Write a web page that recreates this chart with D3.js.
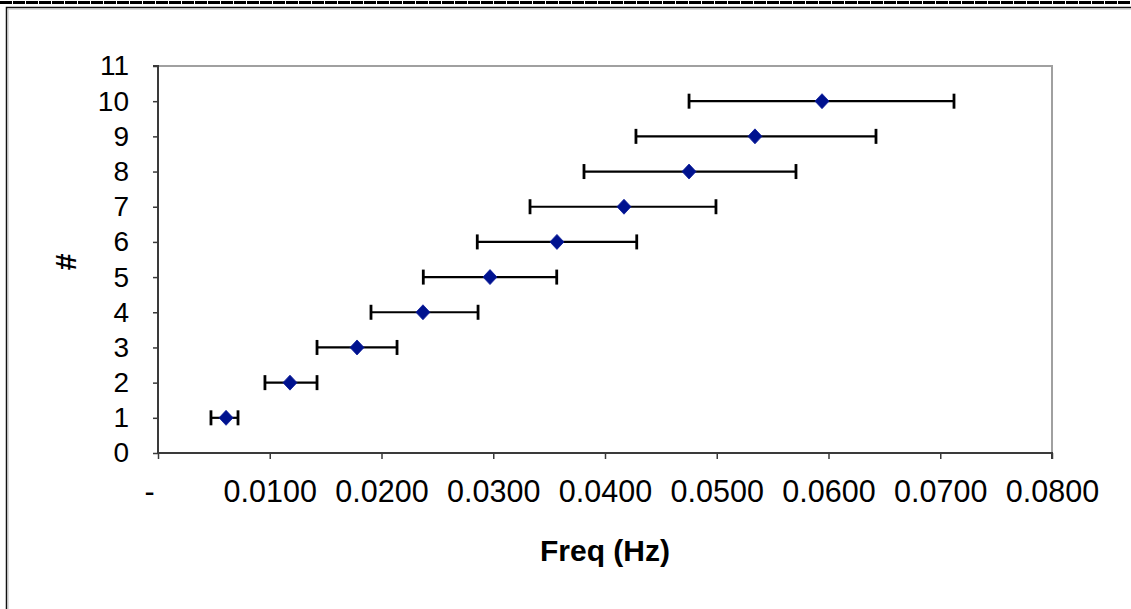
<!DOCTYPE html>
<html>
<head>
<meta charset="utf-8">
<script src="https://cdn.jsdelivr.net/npm/d3@7"></script>
<style>
  html, body { margin: 0; padding: 0; background: #fff; }
  svg { display: block; font-family: "Liberation Sans", Arial, sans-serif; }
</style>
</head>
<body>
<div id="chart"></div>
<script>
// measurement number and frequency (Hz), with the ends of each error bar
var rows = [1, 2, 3, 4, 5, 6, 7, 8, 9, 10];
var freq = [0.00609, 0.01181, 0.01781, 0.02371, 0.02971, 0.03570, 0.04170, 0.04752, 0.05342, 0.05942];
var freqLow = [0.00474, 0.00957, 0.01423, 0.01906, 0.02374, 0.02857, 0.03329, 0.03812, 0.04277, 0.04752];
var freqHigh = [0.00716, 0.01423, 0.02139, 0.02864, 0.03568, 0.04284, 0.04993, 0.05709, 0.06425, 0.07123];

var xTicks = [0, 0.01, 0.02, 0.03, 0.04, 0.05, 0.06, 0.07, 0.08];
var yTicks = [0, 1, 2, 3, 4, 5, 6, 7, 8, 9, 10, 11];

var W = 1131, H = 609;
var plot = { left: 158, right: 1052, top: 66, bottom: 453 };

var svg = d3.select('#chart').append('svg')
  .attr('width', W)
  .attr('height', H);

// page frame
svg.append('line')
  .attr('x1', 0).attr('x2', W)
  .attr('y1', 2.5).attr('y2', 2.5)
  .attr('stroke', '#000')
  .attr('stroke-width', 3)
  .attr('stroke-dasharray', '12,1');
svg.append('path')
  .attr('d', 'M6.5,' + H + 'V7.5H' + W)
  .attr('fill', 'none')
  .attr('stroke', '#111')
  .attr('stroke-width', 1.5);
svg.append('path')
  .attr('d', 'M8,' + H + 'V9H' + W)
  .attr('fill', 'none')
  .attr('stroke', '#bbb')
  .attr('stroke-width', 1);

var x = d3.scaleLinear()
  .domain([0, 0.08])
  .range([plot.left, plot.right]);

var y = d3.scaleLinear()
  .domain([0, 11])
  .range([plot.bottom, plot.top]);

// plot area border (top/right are light gray)
svg.append('path')
  .attr('d', 'M' + plot.left + ',' + plot.top + 'H' + plot.right + 'V' + plot.bottom)
  .attr('fill', 'none')
  .attr('stroke', '#a0a0a0')
  .attr('stroke-width', 2);

var yAxis = svg.append('g')
  .attr('transform', 'translate(' + plot.left + ',0)')
  .call(d3.axisLeft(y).tickValues(yTicks).tickSize(5).tickPadding(24).tickFormat(d3.format('d')));

var xAxis = svg.append('g')
  .attr('transform', 'translate(0,' + plot.bottom + ')')
  .call(d3.axisBottom(x).tickValues(xTicks).tickSize(6).tickPadding(21)
    .tickFormat(function(d) { return d === 0 ? '-' : d3.format('.4f')(d); }));

[xAxis, yAxis].forEach(function(g) {
  g.select('.domain').attr('stroke', '#3a3a3a').attr('stroke-width', 2);
  g.selectAll('.tick line').attr('stroke', '#3a3a3a').attr('stroke-width', 1.5);
  g.selectAll('.tick text')
    .attr('fill', '#000')
    .style('font-size', '28px');
});
yAxis.select('.domain').attr('d', 'M-5,' + plot.top + 'H0V' + plot.bottom);
xAxis.select('.domain').attr('d', 'M' + plot.left + ',0H' + plot.right + 'V6');
xAxis.selectAll('.tick text').style('font-size', '30.5px');
xAxis.selectAll('.tick text').filter(function(d) { return d === 0; }).attr('dx', -9);

// axis titles
svg.append('text')
  .attr('x', 605)
  .attr('y', 561)
  .attr('text-anchor', 'middle')
  .style('font-size', '30px')
  .style('font-weight', 'bold')
  .text('Freq (Hz)');

svg.append('text')
  .attr('transform', 'translate(76,262) rotate(-90)')
  .attr('text-anchor', 'middle')
  .style('font-size', '30px')
  .style('font-weight', 'bold')
  .text('#');

// error bars
var bars = svg.append('g')
  .selectAll('g')
  .data(rows)
  .join('g')
  .attr('stroke', '#000')
  .attr('stroke-width', 2.2);

bars.append('line')
  .attr('x1', function(d, i) { return x(freqLow[i]); })
  .attr('x2', function(d, i) { return x(freqHigh[i]); })
  .attr('y1', function(d) { return y(d); })
  .attr('y2', function(d) { return y(d); });

bars.append('line')
  .attr('x1', function(d, i) { return x(freqLow[i]); })
  .attr('x2', function(d, i) { return x(freqLow[i]); })
  .attr('y1', function(d) { return y(d) - 7.5; })
  .attr('y2', function(d) { return y(d) + 7.5; })
  .attr('stroke-width', 2.8);

bars.append('line')
  .attr('x1', function(d, i) { return x(freqHigh[i]); })
  .attr('x2', function(d, i) { return x(freqHigh[i]); })
  .attr('y1', function(d) { return y(d) - 7.5; })
  .attr('y2', function(d) { return y(d) + 7.5; })
  .attr('stroke-width', 2.8);

// diamond markers
svg.append('g')
  .selectAll('path')
  .data(rows)
  .join('path')
  .attr('transform', function(d, i) { return 'translate(' + x(freq[i]) + ',' + y(d) + ')'; })
  .attr('d', 'M0,-7.5L7,0L0,7.5L-7,0Z')
  .attr('fill', '#00128f')
  .attr('stroke', '#0a1a9a')
  .attr('stroke-width', 0.8);
</script>
</body>
</html>
